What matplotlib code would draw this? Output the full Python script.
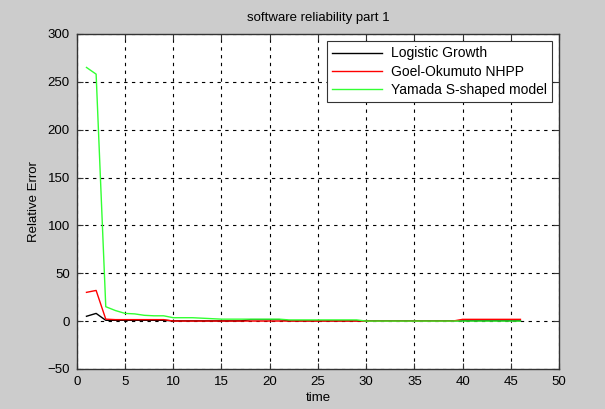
import matplotlib.pyplot as plt

# relative error per time step
time = list(range(1, 47))

logistic = [5, 8, 0.8, 0.8, 0.8, 0.8, 0.8, 0.8, 0.8,
            0.2, 0.2, 0.2, 0.2, 0.2, 0.2, 0.2, 0.2,
            1.5, 1.5, 1.5, 1.5] + [0.3] * 25
goel = [30, 32, 2, 1.5, 1.5, 1.5, 1.5, 1.5, 1.5] + [0.0] * 30 + [1.8] * 7
yamada = [265, 258, 15, 11, 8, 7.5, 6, 5.5, 5.5, 3.5, 3.5, 3.5, 3, 2.5,
          2, 2, 2, 2, 2, 2, 2,
          1.2, 1.2, 1.2, 1.2, 1.2, 1.2, 1.2, 1.2] + [0.0] * 17

plt.rcParams['font.family'] = ['Liberation Sans', 'DejaVu Sans']
plt.rcParams['font.size'] = 9.5

fig = plt.figure(figsize=(6.05, 4.09), dpi=100, facecolor='#cccccc')
ax = fig.add_axes([0.127, 0.098, 0.797, 0.819])

ax.plot(time, logistic, color='black', lw=1, label='Logistic Growth')
ax.plot(time, goel, color='red', lw=1, label='Goel-Okumuto NHPP')
ax.plot(time, yamada, color='#33ff33', lw=1, label='Yamada S-shaped model')

ax.set_xlim(0, 50)
ax.set_ylim(-50, 300)
ax.set_xticks(range(0, 51, 5))
ax.set_yticks(range(-50, 301, 50))
ax.tick_params(direction='in', top=True, right=True, length=4, pad=5,
               colors='#333333', labelcolor='black')
ax.grid(True, color='black', linestyle=(0, (3, 4)), linewidth=0.8)
for s in ax.spines.values():
    s.set_color('#333333')
    s.set_linewidth(1)

ax.set_title('software reliability part 1', fontsize=9.5, pad=9)
ax.set_xlabel('time', labelpad=3)
ax.set_ylabel('Relative Error', labelpad=5)

leg = ax.legend(loc='upper right', fancybox=False, framealpha=1, edgecolor='#333333',
                handlelength=3.6, handletextpad=0.6, borderaxespad=0.5,
                borderpad=0.4, labelspacing=0.3, fontsize=10)
leg.get_frame().set_linewidth(0.8)

plt.savefig('out.png', dpi=100, facecolor=fig.get_facecolor())
plt.close()
